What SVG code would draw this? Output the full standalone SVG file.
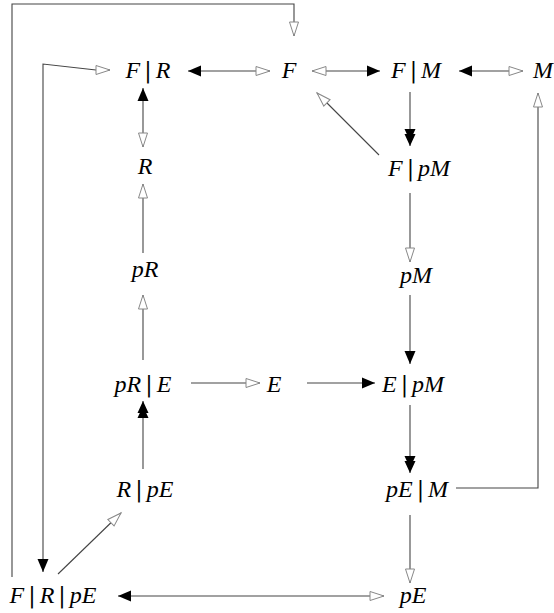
<svg xmlns="http://www.w3.org/2000/svg" width="554" height="613" viewBox="0 0 554 613">
<style>
  text { font-family: "Liberation Serif", "Times New Roman", serif; font-size: 24px; font-style: italic; fill: #000; text-anchor: middle; }
  .b { font-style: normal; font-family: "DejaVu Serif", "Liberation Serif", serif; font-size: 22px; }
  .c { fill: none; stroke: #444; stroke-width: 1.1; }
</style>
<defs>
  <marker id="op" markerUnits="userSpaceOnUse" markerWidth="18" markerHeight="12" refX="15" refY="5" orient="auto-start-reverse" overflow="visible">
    <path d="M1,0.5 L15,5 L1,9.5 Z" fill="#fff" stroke="#888" stroke-width="1"/>
  </marker>
  <marker id="fi" markerUnits="userSpaceOnUse" markerWidth="14" markerHeight="12" refX="13" refY="5.5" orient="auto-start-reverse" overflow="visible">
    <path d="M0,0 L13,5.5 L0,11 Z" fill="#000"/>
  </marker>
  <marker id="df" markerUnits="userSpaceOnUse" markerWidth="20" markerHeight="12" refX="17" refY="5.5" orient="auto-start-reverse" overflow="visible">
    <path d="M0,0 L12,5.5 L0,11 Z M5,0 L17,5.5 L5,11 Z" fill="#000"/>
  </marker>
</defs>
<g id="connectors">
  <path class="c" d="M12,577 V4 H294 V36" marker-end="url(#op)"/>
  <path class="c" d="M43,572 V64 L96,70 H110" marker-start="url(#fi)" marker-end="url(#op)"/>
  <path class="c" d="M188,71 H270" marker-start="url(#fi)" marker-end="url(#op)"/>
  <path class="c" d="M143,88 V147" marker-start="url(#fi)" marker-end="url(#op)"/>
  <path class="c" d="M312,71 H380" marker-start="url(#op)" marker-end="url(#fi)"/>
  <path class="c" d="M459,71 H523" marker-start="url(#fi)" marker-end="url(#op)"/>
  <path class="c" d="M410,92 V146" marker-end="url(#df)"/>
  <path class="c" d="M379,155 L317,93" marker-end="url(#op)"/>
  <path class="c" d="M456,488 H538 V93" marker-end="url(#op)"/>
  <path class="c" d="M143,253 V184" marker-end="url(#op)"/>
  <path class="c" d="M143,360 V295" marker-end="url(#op)"/>
  <path class="c" d="M410,193 V262" marker-end="url(#op)"/>
  <path class="c" d="M410,295 V364" marker-end="url(#fi)"/>
  <path class="c" d="M191,383 H260" marker-end="url(#op)"/>
  <path class="c" d="M307,383 H375" marker-end="url(#fi)"/>
  <path class="c" d="M143,469 V401" marker-end="url(#df)"/>
  <path class="c" d="M410,405 V473" marker-end="url(#df)"/>
  <path class="c" d="M410,515 V583" marker-end="url(#op)"/>
  <path class="c" d="M58,574 L121,513" marker-end="url(#op)"/>
  <path class="c" d="M118,596 H384" marker-start="url(#fi)" marker-end="url(#op)"/>
</g>
<g id="n-FR"><text x="148" y="78">F<tspan class="b" dx="4">|</tspan><tspan dx="4">R</tspan></text></g>
<g id="n-F"><text x="289" y="78">F</text></g>
<g id="n-FM"><text x="416" y="78">F<tspan class="b" dx="4">|</tspan><tspan dx="4">M</tspan></text></g>
<g id="n-M"><text x="543" y="78">M</text></g>
<g id="n-R"><text x="145" y="174">R</text></g>
<g id="n-FpM"><text x="419" y="176">F<tspan class="b" dx="4">|</tspan><tspan dx="4">pM</tspan></text></g>
<g id="n-pR"><text x="145" y="277">pR</text></g>
<g id="n-pM"><text x="416" y="283">pM</text></g>
<g id="n-pRE"><text x="143" y="392">pR<tspan class="b" dx="4">|</tspan><tspan dx="4">E</tspan></text></g>
<g id="n-E"><text x="274" y="392">E</text></g>
<g id="n-EpM"><text x="413" y="392">E<tspan class="b" dx="4">|</tspan><tspan dx="4">pM</tspan></text></g>
<g id="n-RpE"><text x="145" y="497">R<tspan class="b" dx="4">|</tspan><tspan dx="4">pE</tspan></text></g>
<g id="n-pEM"><text x="417" y="497">pE<tspan class="b" dx="4">|</tspan><tspan dx="4">M</tspan></text></g>
<g id="n-FRpE"><text x="53" y="603">F<tspan class="b" dx="4">|</tspan><tspan dx="4">R</tspan><tspan class="b" dx="4">|</tspan><tspan dx="4">pE</tspan></text></g>
<g id="n-pE"><text x="413" y="603">pE</text></g>
</svg>
